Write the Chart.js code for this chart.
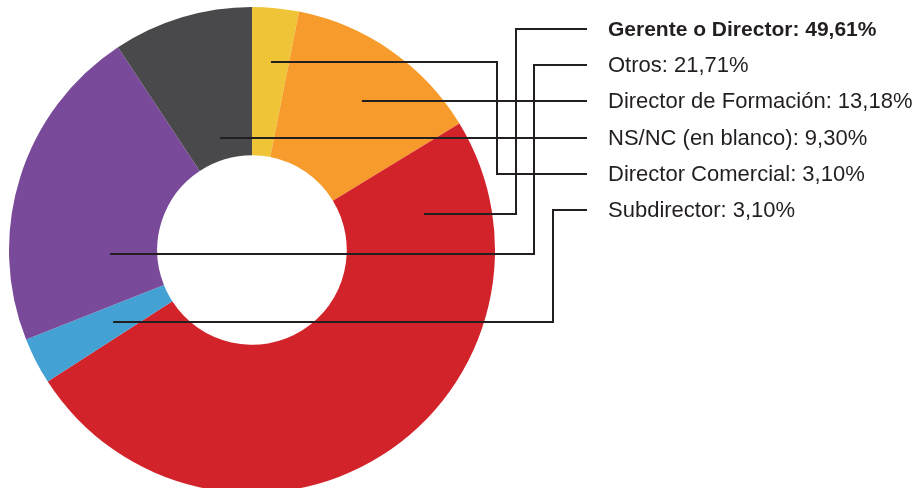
<!DOCTYPE html>
<html>
<head>
<meta charset="utf-8">
<script src="https://cdn.jsdelivr.net/npm/chart.js@4"></script>
<style>
  html, body { margin: 0; padding: 0; background: #fff; overflow: hidden; width: 918px; height: 488px; }
  #wrap { width: 918px; height: 500px; position: relative; }
</style>
</head>
<body>
<div id="wrap"><canvas id="c" width="918" height="500"></canvas></div>
<script>
// ---- data ----
const categories = ['Director Comercial', 'Director de Formación', 'Gerente o Director', 'Subdirector', 'Otros', 'NS/NC (en blanco)'];
const values = [3.10, 13.18, 49.61, 3.10, 21.71, 9.30];
const colors = ['#EFC437', '#F79C2C', '#D2232A', '#43A2D3', '#7A4A9A', '#49494B'];

// ---- leader-line layout (relative to each slice; style only) ----
const anchorFrac = [0.515, 0.532, 0.109, 0.48, 0.256, 0.535];   // position along slice angle
const anchorRad  = [0.778, 0.762, 0.723, 0.644, 0.584, 0.491];  // fraction of outer radius
const elbowX     = [497, null, 516, 553, 534, null];

const fmt = v => v.toFixed(2).replace('.', ',') + '%';
const order = values.map((v, i) => i).sort((a, b) => values[b] - values[a]);

const leaderPlugin = {
  id: 'leaders',
  afterDatasetsDraw(chart) {
    const ctx = chart.ctx;
    const meta = chart.getDatasetMeta(0);
    const labelX = 608, lineEnd = 587, top = 29, step = 36.2;
    ctx.save();
    ctx.strokeStyle = '#231F20';
    ctx.lineWidth = 2;
    ctx.lineCap = 'butt';
    ctx.lineJoin = 'miter';
    order.forEach((idx, row) => {
      const arc = meta.data[idx];
      const p = arc.getProps(['x', 'y', 'startAngle', 'endAngle', 'outerRadius'], true);
      const a = p.startAngle + anchorFrac[idx] * (p.endAngle - p.startAngle);
      const r = anchorRad[idx] * p.outerRadius;
      const ax = p.x + r * Math.cos(a);
      const ay = p.y + r * Math.sin(a);
      const ly = Math.round(top + row * step);
      ctx.beginPath();
      if (elbowX[idx] === null) {
        ctx.moveTo(ax, ly);
        ctx.lineTo(lineEnd, ly);
      } else {
        const ey = Math.round(ay);
        ctx.moveTo(ax, ey);
        ctx.lineTo(elbowX[idx], ey);
        ctx.lineTo(elbowX[idx], ly);
        ctx.lineTo(lineEnd, ly);
      }
      ctx.stroke();
      ctx.fillStyle = '#231F20';
      ctx.textBaseline = 'middle';
      ctx.textAlign = 'left';
      ctx.font = (row === 0 ? 'bold 21px' : '22px') + ' "Liberation Sans", Arial, sans-serif';
      ctx.fillText(categories[idx] + ': ' + fmt(values[idx]), labelX, ly + 1);
    });
    ctx.restore();
  }
};

new Chart(document.getElementById('c'), {
  type: 'doughnut',
  data: {
    labels: categories,
    datasets: [{
      data: values,
      backgroundColor: colors,
      borderWidth: 0
    }]
  },
  options: {
    responsive: false,
    animation: false,
    cutout: '39%',
    layout: { padding: { left: 9, top: 7, right: 423, bottom: 7 } },
    plugins: { legend: { display: false }, tooltip: { enabled: false } }
  },
  plugins: [leaderPlugin]
});
</script>
</body>
</html>
